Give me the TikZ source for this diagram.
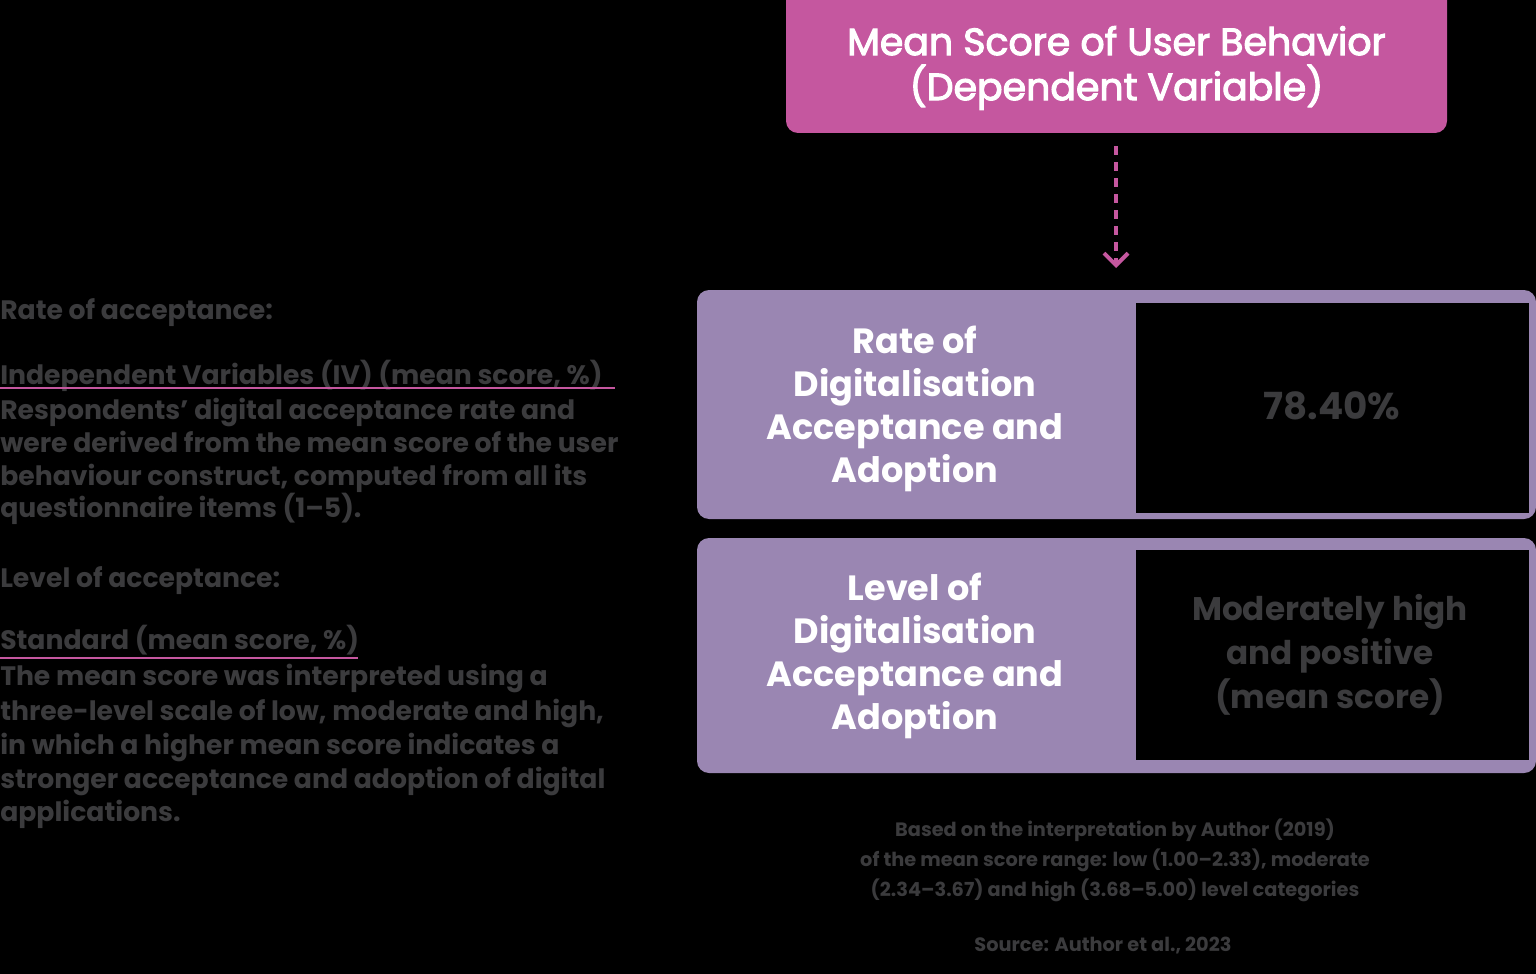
\documentclass[tikz,border=0pt]{standalone}
\usepackage{fontspec}
\setmainfont{Poppins}
\usetikzlibrary{arrows.meta}
\definecolor{pinkc}{HTML}{C5579F}
\definecolor{purp}{HTML}{9A86B2}
\definecolor{dtext}{HTML}{3B3B3D}
\newcommand\medtext{\special{pdf:literal direct 2 Tr 0.8 w}}
\tikzset{
  boxtitle/.style={fill=pinkc, rounded corners=9pt, text=white, align=center,
    font=\fontsize{28.4}{33.8}\selectfont, inner sep=0pt},
  groupbox/.style={fill=purp, rounded corners=9pt, inner sep=0pt},
  valuebox/.style={fill=black, inner sep=0pt},
  grouplabel/.style={text=white, align=center, font=\fontsize{26.3}{32.2}\selectfont\bfseries, inner sep=0pt},
  valuetext/.style={text=dtext, align=center, font=\fontsize{24.5}{33}\selectfont\bfseries, inner sep=0pt},
  lefttext/.style={text=dtext, anchor=base west, inner sep=0pt, font=\fontsize{20}{24}\selectfont\bfseries},
  foottext/.style={text=dtext, align=center, font=\fontsize{14.5}{22.5}\selectfont\bfseries, inner sep=0pt},
  uline/.style={draw=pinkc, line width=2.2pt},
  dasharrow/.style={draw=pinkc, line width=3pt, dash pattern=on 7pt off 5pt,
    -{Straight Barb[length=9pt,width=18pt,line width=3pt]}}
}
\begin{document}
\begin{tikzpicture}[x=0.75pt,y=-0.75pt]
\fill[black] (0,0) rectangle (1536,974);
\useasboundingbox (0,0) rectangle (1536,974);

% top box
\node[boxtitle, minimum width={661*0.75pt}, minimum height={153*0.75pt}] (top) at (1116.5,56.5) {};
\node[boxtitle, fill=none] (toptext) at (1116.5,68) {\medtext Mean Score of User Behavior\\\medtext (Dependent Variable)};

% arrow
\coordinate (astart) at (1116,146);
\coordinate (aend) at (1116,268);
\draw[dasharrow] (astart) -- (aend);

% group 1
\node[groupbox, minimum width={839*0.75pt}, minimum height={229*0.75pt}] (g1) at (1116.5,404.5) {};
\node[valuebox, minimum width={393*0.75pt}, minimum height={210*0.75pt}] (v1) at (1332.5,408) {};
\node[grouplabel] (l1) at (915,409) {Rate of\\Digitalisation\\Acceptance and\\Adoption};
\node[valuetext, font=\fontsize{28}{33}\selectfont\bfseries] (t1) at (1332,406) {78.40\%};

% group 2
\node[groupbox, minimum width={839*0.75pt}, minimum height={235*0.75pt}] (g2) at (1116.5,655.5) {};
\node[valuebox, minimum width={393*0.75pt}, minimum height={210*0.75pt}] (v2) at (1332.5,655) {};
\node[grouplabel] (l2) at (915,656) {Level of\\Digitalisation\\Acceptance and\\Adoption};
\node[valuetext] (t2) at (1330,655) {Moderately high\\and positive\\(mean score)};

% left block 1
\node[lefttext] (h1) at (0,319) {Rate of acceptance:};
\node[lefttext] (u1) at (0,384) {Independent Variables (IV) (mean score, \%)};
\draw[uline] (u1.base west) ++(0,4) coordinate (u1a) -- ++(615,0) coordinate (u1b);
\node[lefttext] (p11) at (0,419) {Respondents' digital acceptance rate and}; 
\node[lefttext] (p12) at (0,452) {were derived from the mean score of the user}; 
\node[lefttext] (p13) at (0,485) {behaviour construct, computed from all its}; 
\node[lefttext] (p14) at (0,517) {questionnaire items (1--5).};

% left block 2
\node[lefttext] (h2) at (0,587) {Level of acceptance:};
\node[lefttext] (u2) at (0,649) {Standard (mean score, \%)};
\draw[uline] (u2.base west) ++(0,9) coordinate (u2a) -- ++(358,0) coordinate (u2b);
\node[lefttext] (p21) at (0,685) {The mean score was interpreted using a}; 
\node[lefttext] (p22) at (0,720) {three-level scale of low, moderate and high,}; 
\node[lefttext] (p23) at (0,754) {in which a higher mean score indicates a}; 
\node[lefttext] (p24) at (0,788) {stronger acceptance and adoption of digital}; 
\node[lefttext] (p25) at (0,821) {applications.};

% footnote
\node[foottext] (f1) at (1115,860) {Based on the interpretation by Author (2019)\\of the mean score range: low (1.00--2.33), moderate\\(2.34--3.67) and high (3.68--5.00) level categories};
\node[foottext] (f2) at (1103,946) {Source: Author et al., 2023};
\end{tikzpicture}
\end{document}
